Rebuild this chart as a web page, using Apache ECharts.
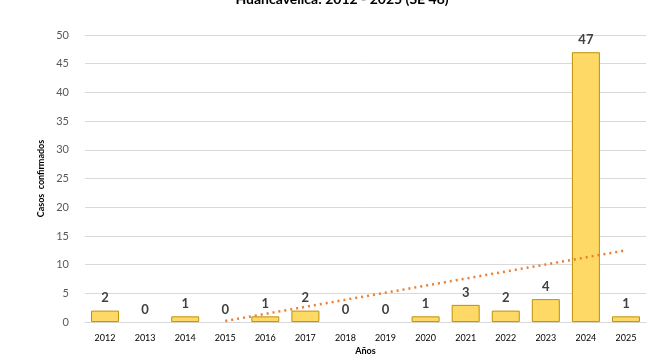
<!DOCTYPE html>
<html>
<head>
<meta charset="utf-8">
<script src="https://cdn.jsdelivr.net/npm/echarts@6/dist/echarts.min.js"></script>
<style>
  html, body { margin: 0; padding: 0; background: #fff; }
  #chart { width: 651px; height: 361px; }
</style>
</head>
<body>
<div id="chart"></div>
<script>
// años y casos confirmados
var years = ["2012", "2013", "2014", "2015", "2016", "2017", "2018", "2019", "2020", "2021", "2022", "2023", "2024", "2025"];
var cases = [2, 0, 1, 0, 1, 2, 0, 0, 1, 3, 2, 4, 47, 1];
// línea de tendencia: sólo los extremos
var trend = [null, null, null, 0.2, null, null, null, null, null, null, null, null, null, 12.5];
var yTicks = [0, 5, 10, 15, 20, 25, 30, 35, 40, 45, 50];

// las barras con 0 no llevan borde
var barData = cases.map(function (v) {
  return v === 0 ? { value: v, itemStyle: { borderWidth: 0 } } : v;
});

var font = "Lato, 'Liberation Sans', sans-serif";
var myChart = echarts.init(document.getElementById("chart"));
myChart.setOption({
  textStyle: { fontFamily: font },
  title: {
    text: "Huancavelica: 2012 - 2025 (SE 48)",
    left: 337,
    textAlign: "center",
    top: -13,
    textStyle: { fontSize: 14, fontWeight: "bold", color: "#000", fontFamily: font }
  },
  grid: { left: 85, right: 5, top: 35, bottom: 36 },
  xAxis: {
    type: "category",
    data: years,
    name: "Años",
    nameLocation: "middle",
    nameGap: 23,
    nameTextStyle: { fontSize: 9, fontWeight: "bold", color: "#000" },
    axisTick: { show: false },
    axisLine: { lineStyle: { color: "#d9d9d9", width: 1 } },
    axisLabel: { fontSize: 9, color: "#000", margin: 11 }
  },
  yAxis: {
    type: "value",
    min: yTicks[0],
    max: yTicks[yTicks.length - 1],
    interval: 5,
    name: "Casos  confirmados",
    nameLocation: "middle",
    nameGap: 36,
    nameTextStyle: { fontSize: 9, fontWeight: "bold", color: "#000" },
    axisLabel: { fontSize: 11, color: "#595959", margin: 16 },
    splitLine: { lineStyle: { color: "#d9d9d9", width: 1 } }
  },
  series: [
    {
      name: "Casos",
      type: "bar",
      data: barData,
      barWidth: 28,
      itemStyle: { color: "#FFD966", borderColor: "#BF9000", borderWidth: 1 },
      label: {
        show: true,
        position: "top",
        distance: 6,
        fontSize: 13,
        fontWeight: "bold",
        color: "#404040"
      }
    },
    {
      name: "Tendencia",
      type: "line",
      data: trend,
      connectNulls: true,
      symbol: "none",
      silent: true,
      lineStyle: { color: "#ED7D31", width: 2.5, type: [2, 4] },
      z: 3
    }
  ]
});
</script>
</body>
</html>
